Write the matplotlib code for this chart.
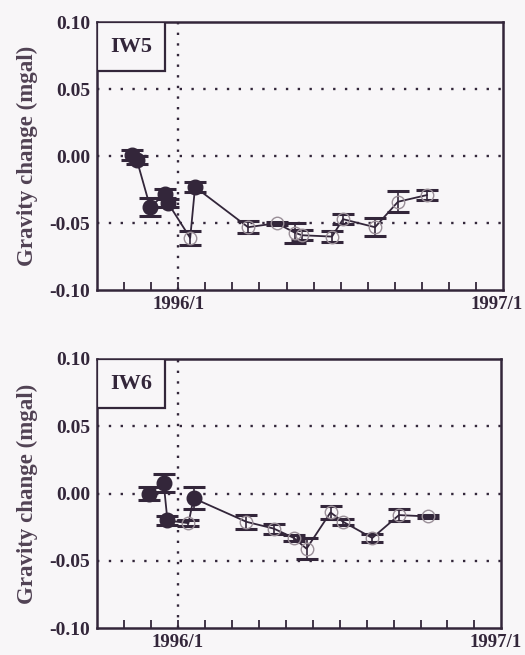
import numpy as np
import matplotlib.pyplot as plt
from matplotlib.patches import Rectangle

# time in months counted from 1996/1, gravity change in mgal
iw5_t_filled = [-1.72, -1.53, -1.04, -0.49, -0.38, 0.62]
iw5_g_filled = [0.001, -0.003, -0.038, -0.028, -0.035, -0.023]
iw5_e_filled = [0.004, 0.003, 0.0066, 0.0034, 0.003, 0.004]
iw5_t_open = [0.44, 2.58, 3.64, 4.30, 4.57, 5.68, 6.09, 7.27, 8.12, 9.19]
iw5_g_open = [-0.061, -0.053, -0.050, -0.057, -0.059, -0.060, -0.047, -0.053, -0.034, -0.029]
iw5_e_open = [0.005, 0.0044, 0.001, 0.0075, 0.0037, 0.0042, 0.0035, 0.0066, 0.0078, 0.0037]

iw6_t_filled = [-1.09, -0.53, -0.39, 0.58]
iw6_g_filled = [0.000, 0.0076, -0.020, -0.0035]
iw6_e_filled = [0.005, 0.0068, 0.0035, 0.008]
iw6_t_open = [0.39, 2.54, 3.55, 4.30, 4.77, 5.66, 6.13, 7.21, 8.20, 9.26]
iw6_g_open = [-0.022, -0.021, -0.026, -0.033, -0.041, -0.014, -0.021, -0.033, -0.016, -0.017]
iw6_e_open = [0.002, 0.0052, 0.0037, 0.0025, 0.008, 0.0047, 0.002, 0.0033, 0.0043, 0.001]

yticks = [0.10, 0.05, 0.00, -0.05, -0.10]
ytick_labels = ["0.10", "0.05", "0.00", "-0.05", "-0.10"]

ink = "#33263a"
label_ink = "#514254"
paper = "#f8f6f8"
plt.rcParams["font.family"] = ["Liberation Serif", "DejaVu Serif"]


def draw_station(ax, name, tf, gf, ef, to, go, eo):
    t = np.array(tf + to)
    g = np.array(gf + go)
    order = np.argsort(t)
    ax.set_facecolor(paper)

    # dotted reference lines
    for y in [0.05, 0.0, -0.05]:
        ax.axhline(y, color=ink, lw=1.7, ls=(0, (1, 4)), zorder=1)
    ax.axvline(0, color=ink, lw=1.7, ls=(0, (1, 3.5)), zorder=1)

    ax.plot(t[order], g[order], color=ink, lw=1.3, zorder=2)
    ax.errorbar(to, go, yerr=eo, fmt="none", ecolor=ink, elinewidth=1.2,
                capsize=8, capthick=2.2, zorder=3)
    ax.errorbar(tf, gf, yerr=ef, fmt="none", ecolor=ink, elinewidth=1.2,
                capsize=8, capthick=2.2, zorder=3)
    ax.plot(to, go, "o", ms=9, mfc="none", mec="#9a8f98", mew=1.0, zorder=4)
    ax.plot(tf, gf, "o", ms=10.5, color=ink, zorder=5)

    ax.set_xlim(-3, 12)
    ax.set_ylim(-0.10, 0.10)
    ax.set_yticks(yticks)
    ax.set_yticklabels(ytick_labels, fontsize=14, fontweight="bold", color=ink)
    ax.set_xticks(range(-2, 12))
    ax.set_xticklabels(["1996/1" if m == 0 else "" for m in range(-2, 12)],
                       fontsize=13.5, fontweight="bold", color=ink)
    ax.tick_params(axis="x", direction="in", length=6, width=1.3, color=ink, pad=4)
    ax.tick_params(axis="y", length=0, pad=5)
    for s in ax.spines.values():
        s.set_color(ink)
        s.set_linewidth(1.8)
    ax.set_ylabel("Gravity change (mgal)", fontsize=16.5, fontweight="bold",
                  color=label_ink, labelpad=8)
    ax.annotate("1997/1", xy=(12, -0.10), xytext=(14.5, -4),
                textcoords="offset points", ha="right", va="top",
                fontsize=13.5, fontweight="bold", color=ink,
                annotation_clip=False)

    # station name in a box tucked into the upper-left corner
    ax.add_patch(Rectangle((0, 0.817), 0.167, 0.183, transform=ax.transAxes,
                           fc=paper, ec=ink, lw=1.6, zorder=6))
    ax.text(0.0835, 0.908, name, transform=ax.transAxes, ha="center",
            va="center", fontsize=16, fontweight="bold", color=ink, zorder=7)


fig = plt.figure(figsize=(5.25, 6.55), dpi=100, facecolor=paper)
ax1 = fig.add_axes([0.185, 0.557, 0.773, 0.409])
ax2 = fig.add_axes([0.185, 0.041, 0.770, 0.411])

draw_station(ax1, "IW5", iw5_t_filled, iw5_g_filled, iw5_e_filled,
             iw5_t_open, iw5_g_open, iw5_e_open)
draw_station(ax2, "IW6", iw6_t_filled, iw6_g_filled, iw6_e_filled,
             iw6_t_open, iw6_g_open, iw6_e_open)

fig.savefig("out.png", dpi=100, facecolor=paper)
